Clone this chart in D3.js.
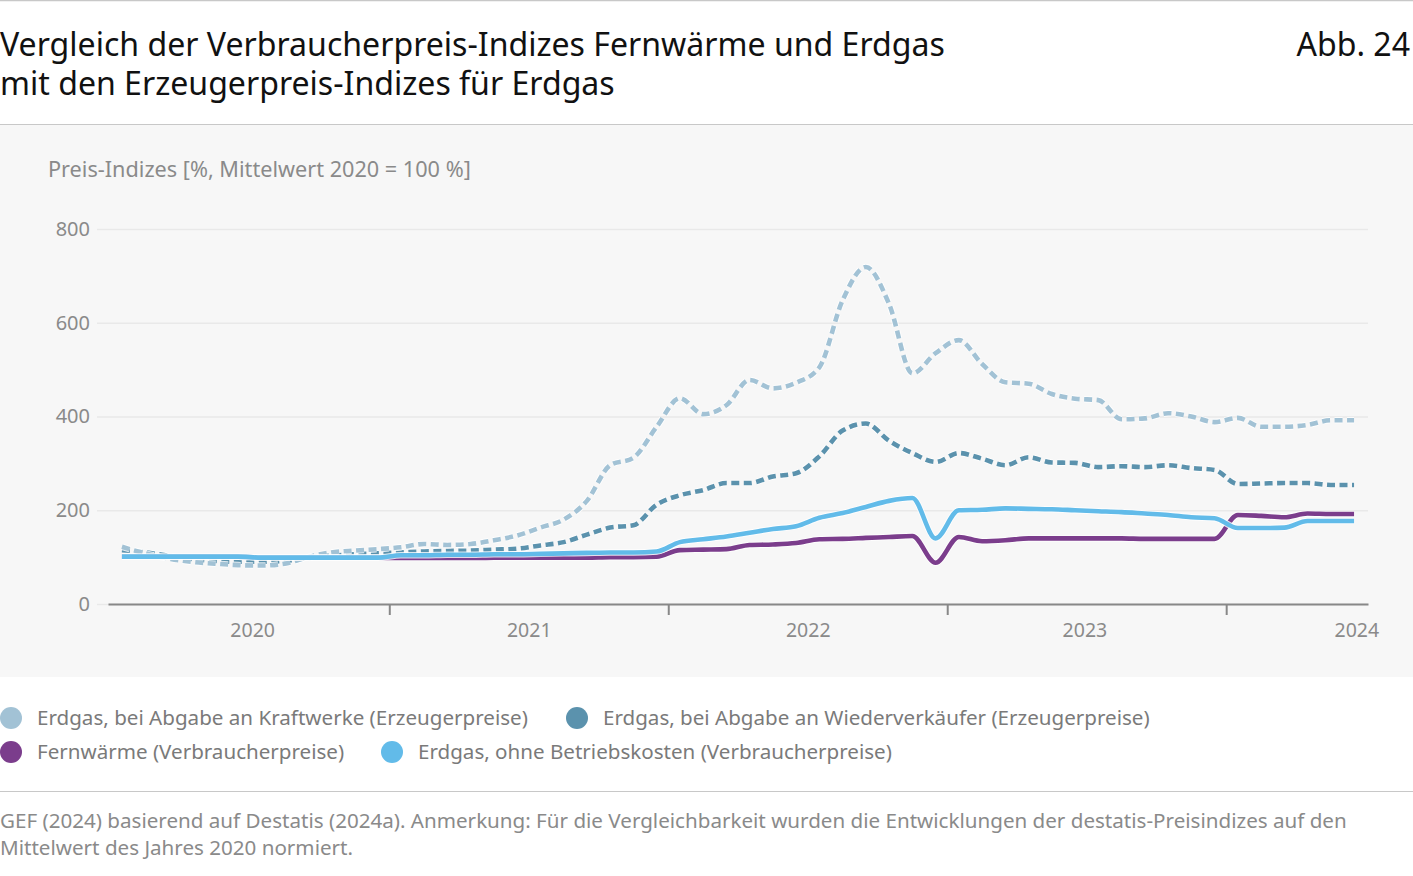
<!DOCTYPE html>
<html>
<head>
<meta charset="utf-8">
<title>Abb. 24</title>
<style>
  body { margin: 0; background: #fff; font-family: "Noto Sans", Roboto, sans-serif; }
  svg { display: block; }
</style>
</head>
<body>
<svg id="chart" width="1413" height="876"></svg>
<script src="https://cdn.jsdelivr.net/npm/d3@7"></script>
<script>
// monthly values Jan 2020 .. Jun 2024 (index, mean 2020 = 100)
var kraftwerke = [122, 108, 97, 90, 86, 83, 82, 86, 100, 110, 114, 117,
  121, 128, 126, 128, 136, 146, 163, 180, 220, 296, 312, 378,
  439, 405, 424, 478, 460, 472, 505, 648, 719, 640, 492, 535,
  563, 512, 473, 470, 448, 438, 435, 394, 396, 407, 400, 388,
  397, 378, 378, 382, 392, 392];
var wiederverkaeufer = [115, 110, 103, 96, 92, 90, 90, 92, 98, 103, 106, 108,
  110, 112, 113, 114, 116, 118, 125, 132, 148, 163, 168, 212,
  232, 243, 258, 258, 272, 279, 315, 370, 385, 348, 322, 303,
  322, 310, 296, 313, 302, 301, 292, 294, 292, 296, 290, 286,
  256, 257, 258, 258, 254, 254];
var fernwaerme = [101, 101, 101, 101, 101, 101, 99, 99, 99, 99, 99, 99,
  98, 98, 98, 98, 99, 99, 99, 99, 99, 100, 100, 101,
  115, 116, 117, 126, 127, 130, 138, 139, 141, 143, 145, 88,
  143, 134, 136, 140, 140, 140, 140, 140, 139, 139, 139, 139,
  190, 188, 185, 193, 192, 192];
var erdgasVerbraucher = [101, 101, 101, 101, 101, 101, 99, 99, 99, 99, 99, 99,
  104, 104, 105, 105, 106, 106, 107, 108, 109, 110, 110, 112,
  132, 138, 144, 152, 160, 166, 184, 194, 207, 220, 226, 140,
  200, 201, 204, 203, 202, 200, 198, 196, 193, 190, 185, 183,
  162, 162, 163, 177, 177, 177];

var seriesNames = [
  "Erdgas, bei Abgabe an Kraftwerke (Erzeugerpreise)",
  "Erdgas, bei Abgabe an Wiederverkäufer (Erzeugerpreise)",
  "Fernwärme (Verbraucherpreise)",
  "Erdgas, ohne Betriebskosten (Verbraucherpreise)"
];
var yearLabels = ["2020", "2021", "2022", "2023", "2024"];
var yTicks = [0, 200, 400, 600, 800];

var svg = d3.select("#chart");
var W = 1413;

// helper: scale font so a text fills a given width
function fitText(sel, target) {
  var fs = parseFloat(sel.attr("font-size"));
  var w = sel.node().getComputedTextLength();
  sel.attr("font-size", (fs * target / w).toFixed(2));
  return fs * target / w;
}

// frame lines + panel
svg.append("line").attr("x1", 0).attr("x2", W).attr("y1", 0.5).attr("y2", 0.5)
  .attr("stroke", "#c8c8c8").attr("stroke-width", 1.5);
svg.append("rect").attr("x", 0).attr("y", 124).attr("width", W).attr("height", 553)
  .attr("fill", "#f7f7f7");
svg.append("line").attr("x1", 0).attr("x2", W).attr("y1", 124.5).attr("y2", 124.5)
  .attr("stroke", "#c8c8c8").attr("stroke-width", 1.2);
svg.append("line").attr("x1", 0).attr("x2", W).attr("y1", 791.5).attr("y2", 791.5)
  .attr("stroke", "#c8c8c8").attr("stroke-width", 1.2);

// title
var t1 = svg.append("text").attr("x", 0).attr("y", 56).attr("font-size", 30)
  .attr("fill", "#111").text("Vergleich der Verbraucherpreis-Indizes Fernwärme und Erdgas");
var tfs = fitText(t1, 945);
svg.append("text").attr("x", 0).attr("y", 95).attr("font-size", tfs.toFixed(2))
  .attr("fill", "#111").text("mit den Erzeugerpreis-Indizes für Erdgas");
svg.append("text").attr("x", 1410).attr("y", 56).attr("font-size", tfs.toFixed(2))
  .attr("text-anchor", "end").attr("fill", "#111").text("Abb. 24");

// y title
var yt = svg.append("text").attr("x", 48).attr("y", 177).attr("font-size", 20)
  .attr("fill", "#8a8a8a").text("Preis-Indizes [%, Mittelwert 2020 = 100 %]");
fitText(yt, 423);

// scales
var x = d3.scaleLinear().domain([-0.6, 53.6]).range([108, 1368]);
var y = d3.scaleLinear().domain([0, 800]).range([604, 229]);

// grid + y labels
var yAxis = d3.axisLeft(y).tickValues(yTicks).tickSize(-(1368 - 97)).tickPadding(8);
var gy = svg.append("g").attr("transform", "translate(97,0)").call(yAxis);
gy.select(".domain").remove();
gy.selectAll(".tick line").attr("stroke", "#e9e9e9").attr("stroke-width", 1.5);
gy.selectAll(".tick text").attr("fill", "#8a8a8a").attr("font-size", 20)
  .attr("font-family", "Noto Sans, sans-serif").attr("x", -7);

// x axis: year separators and year labels
var xTickAxis = d3.axisBottom(x).tickValues([11.5, 23.5, 35.5, 47.5])
  .tickFormat("").tickSizeInner(11).tickSizeOuter(0);
var gx = svg.append("g").attr("transform", "translate(0,604)").call(xTickAxis);
gx.select(".domain").attr("stroke", "#888").attr("stroke-width", 2);
gx.selectAll(".tick line").attr("stroke", "#888").attr("stroke-width", 2);

var xLabelAxis = d3.axisBottom(x).tickValues([5.6, 17.5, 29.5, 41.4, 53.1])
  .tickFormat(function (d, i) { return yearLabels[i]; }).tickSize(0).tickPadding(19);
var gxl = svg.append("g").attr("transform", "translate(0,604)").call(xLabelAxis);
gxl.select(".domain").remove();
gxl.selectAll(".tick text").attr("fill", "#8a8a8a").attr("font-size", 19.5)
  .attr("font-family", "Noto Sans, sans-serif");

// lines
var colors = ["#a2c2d5", "#5b92ad", "#7b3d8c", "#62bbe9"];
var dashes = ["8,4.5", "8,4.5", null, null];
var allSeries = [kraftwerke, wiederverkaeufer, fernwaerme, erdgasVerbraucher];
var drawOrder = [1, 0, 2, 3];

var line = d3.line()
  .x(function (d, i) { return x(i); })
  .y(function (d) { return y(d); })
  .curve(d3.curveMonotoneX);

var gl = svg.append("g");
drawOrder.forEach(function (k) {
  gl.append("path").datum(allSeries[k])
    .attr("d", line).attr("fill", "none")
    .attr("stroke", "#fff").attr("stroke-width", 6.5)
    .attr("stroke-opacity", 0.8)
    .attr("stroke-dasharray", dashes[k])
    .attr("stroke-linejoin", "round");
  gl.append("path").datum(allSeries[k])
    .attr("d", line).attr("fill", "none")
    .attr("stroke", colors[k]).attr("stroke-width", 4.6)
    .attr("stroke-dasharray", dashes[k])
    .attr("stroke-linejoin", "round");
});

// legend
var legendPos = [
  { cx: 11, cy: 718, tx: 37 },
  { cx: 577, cy: 718, tx: 603 },
  { cx: 11, cy: 752, tx: 37 },
  { cx: 392, cy: 752, tx: 418 }
];
var lg = svg.append("g");
var lfs = null;
seriesNames.forEach(function (name, i) {
  var p = legendPos[i];
  lg.append("circle").attr("cx", p.cx).attr("cy", p.cy).attr("r", 11)
    .attr("fill", colors[i]);
  var t = lg.append("text").attr("x", p.tx).attr("y", p.cy + 7)
    .attr("font-size", lfs || 20).attr("fill", "#7a7a7a").text(name);
  if (i == 0) lfs = fitText(t, 491);
});

// source
var s1 = svg.append("text").attr("x", 0).attr("y", 828).attr("font-size", 20)
  .attr("fill", "#8a8a8a")
  .text("GEF (2024) basierend auf Destatis (2024a). Anmerkung: Für die Vergleichbarkeit wurden die Entwicklungen der destatis-Preisindizes auf den");
var sfs = fitText(s1, 1347);
svg.append("text").attr("x", 0).attr("y", 855).attr("font-size", sfs.toFixed(2))
  .attr("fill", "#8a8a8a").text("Mittelwert des Jahres 2020 normiert.");
</script>
</body>
</html>
